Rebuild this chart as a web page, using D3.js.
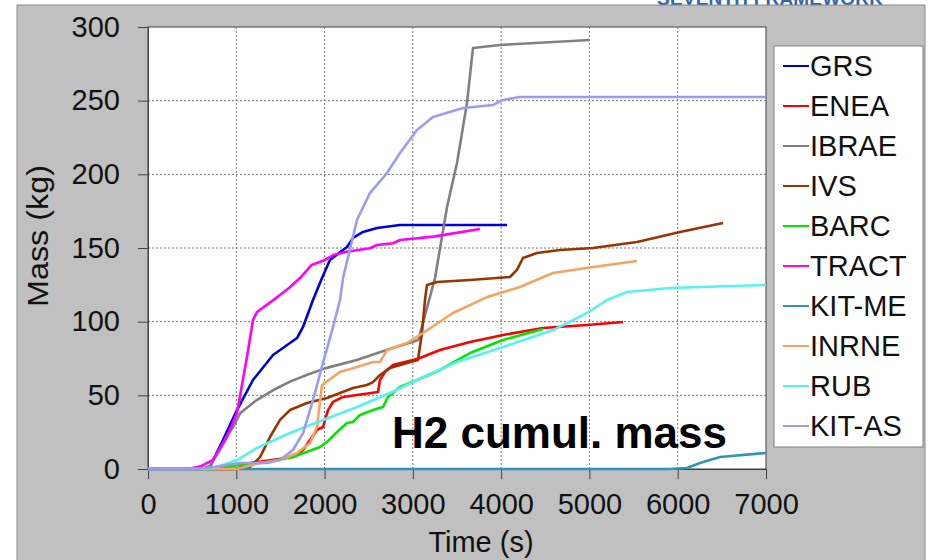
<!DOCTYPE html>
<html>
<head>
<meta charset="utf-8">
<script src="https://cdn.jsdelivr.net/npm/d3@7"></script>
<style>
  body { margin: 0; background: #ffffff; }
  svg { display: block; font-family: "Liberation Sans", Arial, sans-serif; }
</style>
</head>
<body>
<svg id="chart" width="930" height="560"></svg>
<script>
// series, in the order excel draws them (last one on top)
let seriesNames = ["GRS", "ENEA", "IBRAE", "IVS", "BARC", "TRACT", "KIT-ME", "INRNE", "RUB", "KIT-AS"];
let seriesColors = ["#0000dd", "#ff0000", "#808080", "#993300", "#00e600", "#ff00ff",
    "#2f95b8", "#f4a460", "#55f2f2", "#9b9bf5"];

// [time (s), mass (kg)]
let grs = [[0, 0], [600, 0], [650, 0.3], [702, 1.4], [849, 19.7], [1008, 40], [1189, 60.4],
    [1416, 77.4], [1688, 88.9], [1756, 96.4], [1869, 114.7], [1971, 129.6], [2061, 141.9],
    [2254, 150.7], [2322, 156.8], [2435, 160.9], [2594, 163.6], [2854, 165.6], [4066, 165.6]];
let enea = [[0, 0], [1000, 0], [1155, 4], [1642, 8.1], [1756, 12.9], [1835, 19.7], [1914, 26.5],
    [1982, 28.5], [2039, 40], [2096, 45.5], [2209, 48.9], [2367, 50.2], [2605, 52.3], [2628, 60.4],
    [2684, 65.8], [2775, 70.6], [3001, 74], [3081, 75.3], [3307, 80.8], [3647, 86.2], [4021, 91],
    [4474, 95.7], [4972, 97.7], [5380, 99.8]];
let ibrae = [[0, 0], [600, 0], [700, 2], [800, 12], [900, 23], [965, 28.5], [1042, 37.8],
    [1231, 46.8], [1420, 53.6], [1608, 59.3], [1797, 63.8], [2005, 68.3], [2364, 74], [2703, 80.8],
    [3062, 87.6], [3251, 129.6], [3387, 177.8], [3500, 207.7], [3613, 248.4], [3681, 285.7],
    [3987, 287.8], [5006, 291.2]];
let ivs = [[0, 0], [1000, 0], [1155, 1.4], [1269, 8.1], [1382, 21.7], [1495, 33.3], [1608, 40],
    [1801, 44.8], [2027, 48.2], [2175, 51.6], [2322, 55], [2480, 57], [2548, 59], [2628, 63.8],
    [2741, 68.6], [2933, 71.9], [3058, 74], [3103, 92.3], [3137, 114.7], [3160, 124.9],
    [3273, 126.9], [3647, 128.3], [4100, 130.3], [4179, 135.1], [4247, 143.2], [4406, 146.6],
    [4666, 148.6], [5040, 150], [5539, 154.1], [6026, 160.9], [6513, 167]];
let barc = [[0, 0], [700, 0], [1042, 2.7], [1348, 4.8], [1642, 8.1], [1948, 14.9], [2027, 18.3],
    [2141, 25.1], [2254, 31.2], [2322, 31.9], [2401, 36.7], [2548, 40], [2662, 42.1], [2718, 48.9],
    [2854, 55.7], [3047, 60.4], [3307, 67.2], [3647, 78.7], [4021, 87.6], [4474, 95]];
let tract = [[0, 0], [450, 0], [589, 1.6], [736, 6.1], [895, 21.7], [1008, 38], [1121, 76],
    [1189, 101], [1235, 106.6], [1450, 116], [1600, 123], [1722, 129.6], [1854, 138.5],
    [2005, 141.9], [2099, 145.2], [2250, 147.5], [2514, 149.8], [2590, 152], [2778, 153.2],
    [2854, 155.4], [3232, 157.7], [3760, 162.9]];
let kitMe = [[0, 0], [5900, 0], [6105, 0.7], [6252, 4.1], [6479, 8.1], [7000, 10.9]];
let inrne = [[0, 0], [1000, 0], [1269, 4], [1495, 6.1], [1688, 10.9], [1835, 17.6], [1914, 28.5],
    [1971, 57], [2175, 65.8], [2367, 69.2], [2548, 72.6], [2628, 72.6], [2707, 80.8],
    [2933, 85.5], [3115, 92.3], [3454, 105.9], [3840, 116.7], [4213, 123.5], [4587, 133],
    [5040, 137.1], [5539, 141.2]];
let rub = [[0, 0], [650, 0], [781, 1.4], [1008, 6.1], [1235, 14.3], [1608, 24.4], [1982, 33.3],
    [2367, 42.1], [2741, 51.6], [3115, 62.4], [3500, 72.6], [4021, 82.8], [4587, 94.3],
    [4972, 105.9], [5199, 114.7], [5425, 120.1], [5912, 122.9], [7000, 124.9]];
let kitAs = [[0, 0], [500, 0], [600, 0.3], [668, 0.7], [1042, 4.1], [1348, 4.1], [1495, 6.1],
    [1642, 12.9], [1756, 24.4], [1869, 46.8], [1982, 72], [2096, 96.4], [2175, 114.7],
    [2209, 129.6], [2367, 169], [2514, 187.3], [2707, 200.9], [2854, 214.5], [3047, 230.1],
    [3228, 238.9], [3568, 245], [3908, 247.1], [4021, 250.5], [4213, 252.5], [7000, 252.5]];

let seriesData = [grs, enea, ibrae, ivs, barc, tract, kitMe, inrne, rub, kitAs];

let xTicks = [0, 1000, 2000, 3000, 4000, 5000, 6000, 7000];
let yTicks = [0, 50, 100, 150, 200, 250, 300];

let svg = d3.select("#chart");

// slide header, mostly cut off at the top of the picture
svg.append("text")
    .attr("x", 657)
    .attr("y", 5)
    .attr("textLength", 226)
    .style("font-size", "19px")
    .style("font-weight", "bold")
    .style("fill", "#2f66b0")
    .text("SEVENTH FRAMEWORK");

// grey chart area
svg.append("rect")
    .attr("x", 17)
    .attr("y", 5)
    .attr("width", 908)
    .attr("height", 570)
    .style("fill", "#c0c0c0")
    .style("stroke", "#8a8a8a")
    .style("stroke-width", 1);

let x = d3.scaleLinear().domain([0, 7000]).range([148, 766]);
let y = d3.scaleLinear().domain([0, 300]).range([469, 27]);

// plot area
svg.append("rect")
    .attr("x", x(0))
    .attr("y", y(300))
    .attr("width", x(7000) - x(0))
    .attr("height", y(0) - y(300))
    .style("fill", "#ffffff")
    .style("stroke", "#404040")
    .style("stroke-width", 1);

// dotted grid
let grid = svg.append("g");
grid.selectAll(null)
    .data(xTicks.slice(1, -1))
    .enter()
    .append("line")
    .attr("x1", d => x(d)).attr("x2", d => x(d))
    .attr("y1", y(0)).attr("y2", y(300));
grid.selectAll(null)
    .data(yTicks.slice(1, -1))
    .enter()
    .append("line")
    .attr("x1", x(0)).attr("x2", x(7000))
    .attr("y1", d => y(d)).attr("y2", d => y(d));
grid.selectAll("line")
    .style("stroke", "#777777")
    .style("stroke-width", 1)
    .style("stroke-dasharray", "2,2");

// axes
let yAxis = svg.append("g")
    .attr("transform", "translate(" + x(0) + ",0)")
    .call(d3.axisLeft(y).tickValues(yTicks).tickSize(10).tickSizeOuter(0).tickPadding(18)
        .tickFormat(d3.format("d")));
let xAxis = svg.append("g")
    .attr("transform", "translate(0," + y(0) + ")")
    .call(d3.axisBottom(x).tickValues(xTicks).tickSize(10).tickSizeOuter(0).tickPadding(14)
        .tickFormat(d3.format("d")));

[xAxis, yAxis].forEach(function (ax) {
    ax.selectAll("path, line").style("stroke", "#404040").style("stroke-width", 1);
    ax.selectAll("text")
        .style("font-family", "\"Liberation Sans\", Arial, sans-serif")
        .style("font-size", "29px")
        .style("fill", "#111111");
});

// axis titles
svg.append("text")
    .attr("transform", "translate(48,236) rotate(-90)")
    .attr("text-anchor", "middle")
    .attr("textLength", 142)
    .attr("lengthAdjust", "spacingAndGlyphs")
    .style("font-size", "29px")
    .style("fill", "#111111")
    .text("Mass (kg)");

svg.append("text")
    .attr("x", 481)
    .attr("y", 552)
    .attr("text-anchor", "middle")
    .style("font-size", "29px")
    .style("fill", "#111111")
    .text("Time (s)");

// lines
let line = d3.line()
    .x(d => x(d[0]))
    .y(d => y(d[1]));

svg.append("g")
    .selectAll(null)
    .data(seriesData)
    .enter()
    .append("path")
    .attr("d", line)
    .style("fill", "none")
    .style("stroke", (d, i) => seriesColors[i])
    .style("stroke-width", 2.6)
    .style("stroke-linejoin", "round")
    .style("stroke-linecap", "butt");

// label inside the plot
svg.append("text")
    .attr("x", 392)
    .attr("y", 448)
    .style("font-size", "44px")
    .style("font-weight", "bold")
    .style("fill", "#000000")
    .text("H2 cumul. mass");

// legend
let legend = svg.append("g");
legend.append("rect")
    .attr("x", 774)
    .attr("y", 46)
    .attr("width", 149)
    .attr("height", 401)
    .style("fill", "#ffffff")
    .style("stroke", "#808080")
    .style("stroke-width", 1);

let item = legend.selectAll(null)
    .data(seriesNames)
    .enter()
    .append("g")
    .attr("transform", (d, i) => "translate(0," + (66 + i * 40) + ")");

item.append("line")
    .attr("x1", 783).attr("x2", 809)
    .attr("y1", 0).attr("y2", 0)
    .style("stroke", (d, i) => seriesColors[i])
    .style("stroke-width", 2);

item.append("text")
    .attr("x", 810)
    .attr("y", 0)
    .attr("dy", "0.36em")
    .style("font-size", "29px")
    .style("fill", "#111111")
    .text(d => d);
</script>
</body>
</html>
